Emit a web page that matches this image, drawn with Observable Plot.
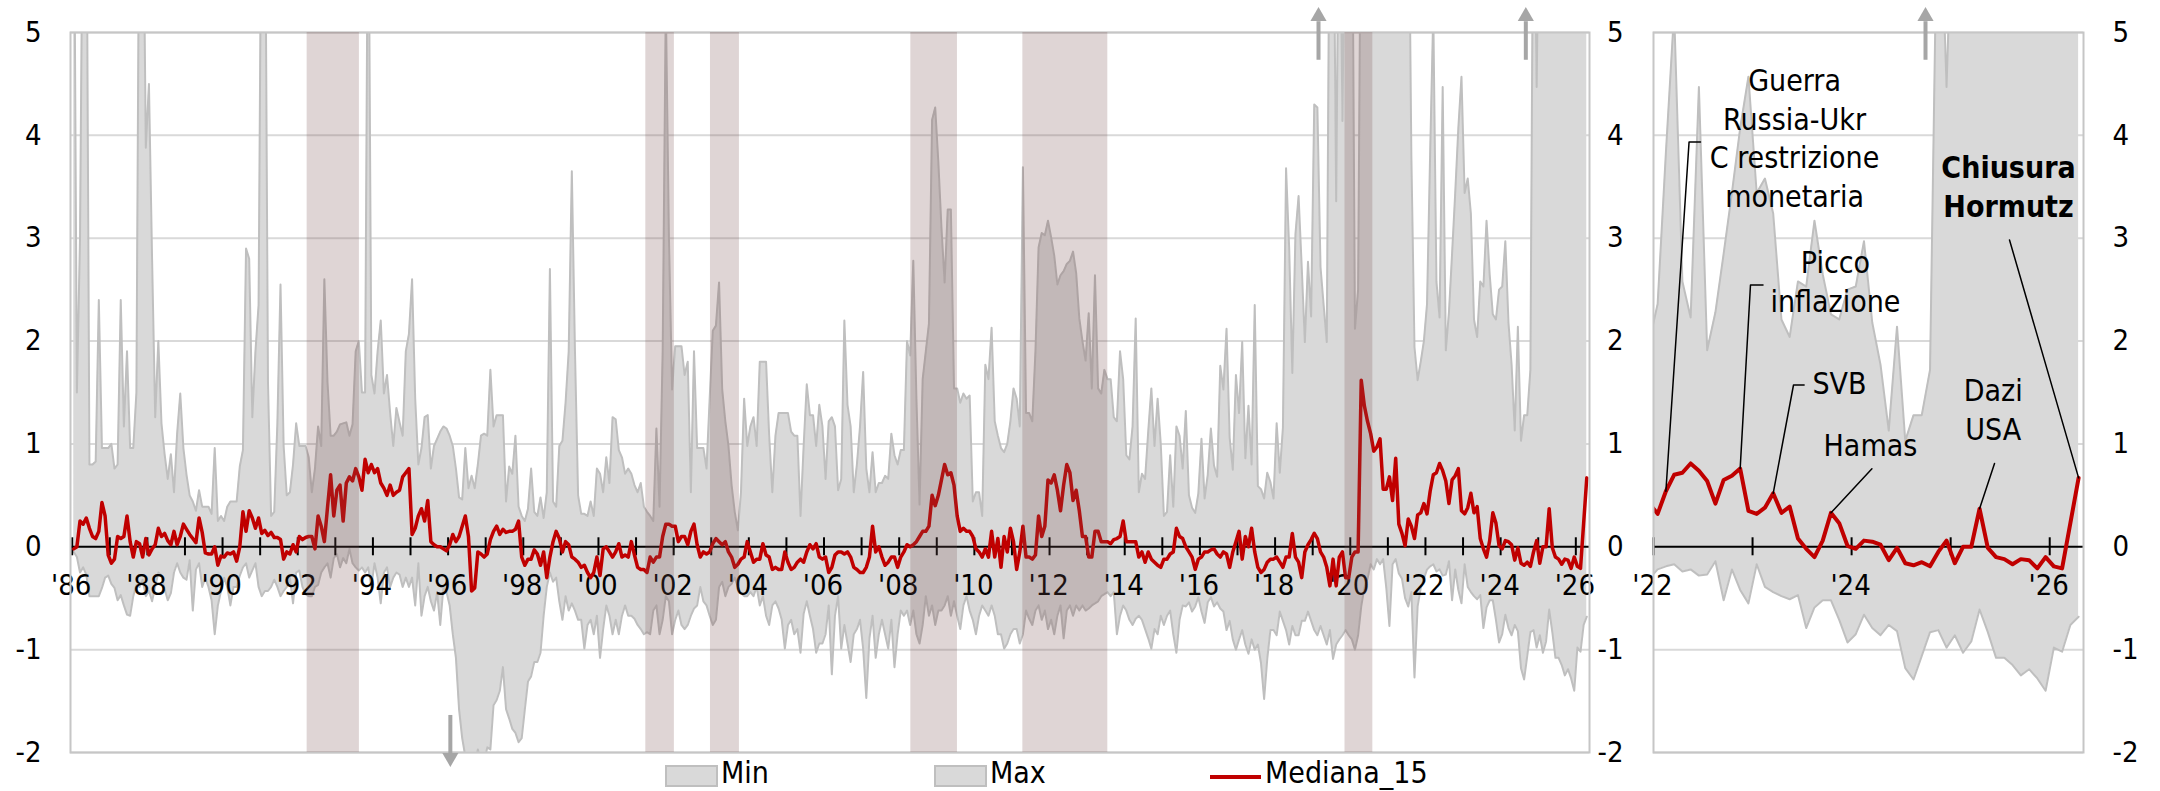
<!DOCTYPE html>
<html><head><meta charset="utf-8">
<script src="https://cdn.jsdelivr.net/npm/d3@7"></script>
<script src="https://cdn.jsdelivr.net/npm/@observablehq/plot@0.6"></script>
<style>
html,body{margin:0;padding:0;background:#fff;}
#wrap{position:relative;width:2160px;height:791px;overflow:hidden;font-family:"DejaVu Sans Condensed","DejaVu Sans",sans-serif;font-stretch:condensed;}
#left{position:absolute;left:0;top:0;}
#right{position:absolute;left:1640px;top:0;}
#legend{position:absolute;left:0;top:760px;}
svg{overflow:visible;}
</style>
</head><body>
<div id="wrap"><div id="left"></div><div id="right"></div><div id="legend"></div></div>
<script>
// Monthly series, Jan 1986 .. Apr 2026
const startYear = 1986;
const median = [
-0.02,0.0,0.25,0.22,0.28,0.18,0.1,0.08,0.15,0.43,
0.3,-0.08,-0.16,-0.12,0.1,0.08,0.1,0.3,0.05,-0.1,
0.05,0.03,-0.1,0.08,-0.08,-0.02,0.02,0.18,0.1,0.13,
0.06,0.02,0.15,0.02,0.1,0.22,0.17,0.12,0.08,0.04,
0.28,0.14,-0.06,-0.07,-0.07,0.0,-0.18,-0.09,-0.1,-0.06,
-0.07,-0.05,-0.14,0.0,0.34,0.15,0.35,0.28,0.18,0.28,
0.13,0.16,0.11,0.14,0.09,0.09,0.07,-0.12,-0.05,-0.07,
0.02,-0.05,0.1,0.07,0.09,0.1,0.1,-0.02,0.3,0.2,
0.05,0.38,0.7,0.3,0.55,0.6,0.25,0.62,0.68,0.64,
0.76,0.68,0.55,0.85,0.72,0.8,0.72,0.76,0.62,0.57,
0.5,0.6,0.5,0.53,0.55,0.68,0.72,0.76,0.12,0.18,
0.3,0.37,0.25,0.45,0.05,0.02,0.0,0.0,-0.02,-0.04,
0.02,0.12,0.05,0.1,0.2,0.3,0.1,-0.43,-0.4,-0.05,
-0.07,-0.1,-0.07,0.07,0.15,0.2,0.12,0.17,0.14,0.15,
0.15,0.17,0.25,-0.1,-0.18,-0.12,-0.12,-0.03,-0.07,-0.18,
-0.05,-0.3,-0.1,0.05,0.15,0.08,-0.05,0.05,0.02,-0.1,
-0.12,-0.15,-0.2,-0.18,-0.25,-0.3,-0.25,-0.1,-0.28,-0.02,
0.0,-0.05,-0.1,-0.05,0.03,-0.1,-0.08,-0.1,0.05,-0.08,
-0.2,-0.22,-0.22,-0.25,-0.1,-0.15,-0.1,-0.1,0.1,0.22,
0.22,0.2,0.2,0.05,0.1,0.1,0.02,0.15,0.22,0.02,
-0.1,-0.05,-0.07,-0.05,0.03,0.08,0.05,0.02,0.05,-0.05,
-0.1,-0.2,-0.17,-0.12,-0.1,0.05,-0.05,-0.15,-0.12,-0.12,
0.03,-0.08,-0.1,-0.22,-0.2,-0.22,-0.22,-0.05,-0.15,-0.22,
-0.2,-0.15,-0.12,-0.15,-0.05,0.02,-0.02,0.03,-0.1,-0.12,
-0.1,-0.25,-0.2,-0.08,-0.05,-0.05,-0.07,-0.05,-0.1,-0.2,
-0.22,-0.25,-0.25,-0.2,-0.1,0.2,-0.05,0.0,-0.1,-0.18,
-0.15,-0.1,-0.1,-0.2,-0.1,-0.05,0.02,0.0,0.02,0.05,
0.1,0.15,0.15,0.2,0.5,0.4,0.5,0.65,0.8,0.7,
0.72,0.6,0.3,0.15,0.18,0.15,0.15,0.1,-0.02,-0.05,
-0.1,-0.02,-0.1,0.15,-0.1,0.08,-0.2,0.1,-0.05,0.18,
0.05,-0.22,-0.05,0.2,-0.1,-0.1,-0.12,-0.08,0.3,0.1,
0.2,0.65,0.62,0.7,0.55,0.35,0.6,0.8,0.72,0.45,
0.55,0.35,0.1,0.1,-0.1,-0.1,0.15,0.15,0.05,0.05,
0.05,0.03,0.07,0.08,0.1,0.25,0.05,0.05,0.05,0.05,
-0.1,-0.05,-0.15,-0.05,-0.12,-0.15,-0.18,-0.2,-0.12,-0.12,
-0.07,-0.05,0.18,0.1,0.08,0.0,-0.05,-0.1,-0.22,-0.12,
-0.1,-0.05,-0.05,-0.03,-0.02,-0.07,-0.1,-0.05,-0.07,-0.2,
-0.05,0.05,0.15,-0.12,0.1,0.0,0.18,-0.05,-0.2,-0.25,
-0.22,-0.15,-0.12,-0.12,-0.1,-0.15,-0.2,-0.1,-0.1,0.13,
-0.1,-0.15,-0.3,-0.05,0.02,0.07,0.13,0.08,-0.05,-0.1,
-0.2,-0.38,-0.12,-0.38,-0.1,-0.05,-0.3,-0.3,-0.1,-0.05,
-0.05,1.62,1.37,1.22,1.10,0.93,0.97,1.05,0.56,0.56,
0.68,0.45,0.86,0.22,0.13,0.01,0.27,0.2,0.08,0.31,
0.33,0.42,0.32,0.54,0.70,0.72,0.81,0.74,0.64,0.42,
0.65,0.69,0.76,0.35,0.32,0.38,0.52,0.33,0.39,0.08,
-0.02,-0.10,0.06,0.33,0.23,0.01,-0.02,0.06,0.05,0.02,
-0.13,-0.01,-0.16,-0.18,-0.15,-0.19,-0.05,0.06,-0.16,0.0,
0.0,0.37,-0.01,-0.10,-0.12,-0.17,-0.12,-0.13,-0.21,-0.10,
-0.19,-0.21,0.23,0.67];

const maxV = [
7,1.5,3.0,7,7,0.8,0.8,0.83,2.4,0.96,
0.96,0.96,1.0,0.76,0.8,2.4,1.17,1.9,0.96,0.96,
1.5,7,7,3.88,4.5,2.8,1.26,2.0,1.2,0.9,
0.66,0.9,0.53,1.1,1.49,0.96,0.7,0.5,0.44,0.35,
0.55,0.39,0.39,0.39,0.32,0.96,0.25,0.3,0.25,0.39,
0.44,0.44,0.44,0.78,0.94,2.9,2.8,1.26,1.9,2.35,
7,7,1.6,0.3,0.34,1.2,2.55,0.98,0.5,0.53,
0.8,1.2,0.98,0.98,0.98,0.87,0.53,0.76,1.17,0.98,
2.6,1.6,1.08,1.08,1.12,1.19,1.2,1.21,1.08,1.19,
1.9,2.0,1.5,1.5,7,1.67,1.49,1.9,2.2,1.49,
1.67,1.3,0.98,1.35,1.21,1.08,1.9,2.07,2.6,1.44,
0.8,0.96,1.26,1.28,0.76,0.98,1.05,1.12,1.17,1.15,
1.08,0.98,0.76,0.48,0.46,0.96,0.57,0.69,0.57,0.8,
1.08,1.1,1.08,1.72,1.17,1.28,1.28,1.28,0.44,0.78,
0.71,1.08,0.39,0.3,0.25,0.37,0.76,0.34,0.3,0.48,
0.28,0.53,2.7,0.44,0.39,0.98,1.03,1.4,1.9,3.65,
1.9,0.5,0.32,0.32,0.3,0.44,0.3,0.76,0.71,0.53,
0.87,0.62,1.26,1.24,0.94,0.87,0.71,0.76,0.71,0.6,
0.53,0.62,0.39,0.34,0.3,0.25,1.15,0.39,1.9,5.3,
3.0,1.53,1.95,1.95,1.95,1.67,1.8,0.53,1.9,0.96,
0.96,0.96,0.76,1.44,2.1,2.15,2.57,1.53,1.22,0.98,
0.6,0.34,0.16,0.53,1.44,0.98,1.17,1.26,0.98,1.8,
1.8,1.8,1.08,0.53,1.08,1.3,1.3,1.3,1.3,1.12,
1.08,1.08,0.3,0.98,1.58,1.28,1.28,0.98,1.38,1.17,
0.66,1.22,1.26,1.17,0.55,0.66,2.2,1.38,1.17,0.53,
0.8,1.17,1.7,0.76,0.53,0.92,0.53,0.62,0.62,0.69,
0.66,1.1,0.89,0.8,0.94,0.94,2.0,1.86,2.78,1.44,
0.41,1.63,1.9,2.17,4.15,4.27,3.74,3.1,2.57,3.28,
3.28,1.54,1.54,1.4,1.49,1.44,1.47,0.44,0.53,0.53,
0.3,1.77,1.63,2.13,1.22,1.08,0.96,0.92,1.0,1.22,
1.54,1.44,1.17,3.69,1.3,1.3,1.22,1.9,2.91,3.05,
3.03,3.17,3.01,2.83,2.55,2.64,2.68,2.75,2.78,2.87,
2.66,2.22,2.0,1.81,2.27,1.54,2.64,1.54,1.49,1.72,
1.63,1.63,1.26,1.22,1.9,1.63,0.89,0.85,1.17,2.22,
0.53,0.71,0.66,1.12,1.54,0.98,1.44,1.0,0.3,0.34,
0.89,0.39,1.17,1.08,0.76,1.32,0.5,0.38,0.33,0.52,
1.05,0.47,0.7,1.15,0.79,0.68,1.76,1.53,2.12,1.06,
0.75,1.67,1.3,1.99,0.86,1.37,0.8,2.35,0.59,0.56,
0.47,0.72,0.63,0.47,1.2,0.72,1.16,3.68,2.9,1.69,
3.04,3.41,2.72,1.99,2.77,2.24,4.3,4.27,2.72,2.35,
1.99,7,7,3.36,7,4.14,7,7,7,2.12,
2.5,7,7,7,7,7,7,7,7,7,
7,7,7,7,7,7,7,3.8,1.94,1.62,
1.8,2.0,2.36,3.83,5.2,2.58,2.23,4.47,1.91,2.28,
2.85,3.44,4.07,4.57,3.44,3.58,3.24,2.21,2.04,2.58,
2.53,3.17,2.65,2.26,2.21,2.5,2.53,2.97,2.18,1.77,
1.13,2.14,1.03,1.28,1.28,1.72,7,4.47,7,7,
7,7,7,7,7,7,7,7,7,7,
7,7,7,7];

const minV = [
-0.05,-0.1,-0.25,-0.2,-0.27,-0.48,-0.48,-0.48,-0.48,-0.4,
-0.3,-0.28,-0.36,-0.4,-0.52,-0.47,-0.57,-0.66,-0.67,-0.48,
-0.37,-0.39,-0.32,-0.48,-0.43,-0.53,-0.39,-0.25,-0.28,-0.41,
-0.52,-0.45,-0.25,-0.16,-0.25,-0.3,-0.32,-0.13,-0.62,-0.22,
-0.16,-0.39,-0.3,-0.39,-0.52,-0.85,-0.57,-0.43,-0.3,-0.39,
-0.57,-0.39,-0.39,-0.28,-0.2,-0.16,-0.3,-0.23,-0.16,-0.39,
-0.48,-0.43,-0.43,-0.39,-0.32,-0.39,-0.48,-0.43,-0.39,-0.3,
-0.55,-0.25,-0.23,-0.39,-0.46,-0.48,-0.48,-0.39,-0.37,-0.25,
-0.2,-0.16,-0.3,-0.11,-0.07,-0.2,-0.11,-0.16,-0.02,-0.16,
-0.2,-0.23,-0.2,-0.25,-0.2,-0.39,-0.16,-0.3,-0.55,-0.25,
-0.2,-0.39,-0.3,-0.25,-0.27,-0.39,-0.3,-0.39,-0.3,-0.57,
-0.16,-0.67,-0.48,-0.39,-0.53,-0.62,-0.44,-0.76,-0.39,-0.44,
-0.57,-0.85,-1.08,-1.58,-1.86,-2.04,-2.2,-2.2,-2.1,-1.97,
-2.1,-2.1,-1.95,-1.97,-1.54,-1.49,-1.4,-1.17,-1.58,-1.67,
-1.77,-1.81,-1.9,-1.86,-1.58,-1.31,-1.26,-1.12,-1.12,-1.03,
-0.67,-0.39,-0.25,-0.34,-0.3,-0.53,-0.71,-0.48,-0.62,-0.55,
-0.62,-0.71,-0.71,-0.99,-0.76,-0.71,-0.85,-0.67,-1.08,-0.8,
-0.57,-0.67,-0.85,-0.71,-0.85,-0.67,-0.57,-0.67,-0.67,-0.7,
-0.76,-0.8,-0.85,-0.83,-0.85,-0.62,-0.57,-0.85,-0.71,-0.48,
-0.53,-0.85,-0.71,-0.62,-0.76,-0.8,-0.76,-0.67,-0.6,-0.57,
-0.39,-0.53,-0.57,-0.67,-0.76,-0.71,-0.39,-0.34,-0.48,-0.39,
-0.36,-0.3,-0.39,-0.45,-0.48,-0.48,-0.44,-0.48,-0.39,-0.57,
-0.48,-0.67,-0.76,-0.57,-0.53,-0.6,-0.71,-0.99,-0.76,-0.71,
-0.85,-0.8,-1.03,-0.65,-0.53,-0.67,-0.8,-1.03,-0.94,-0.94,
-0.85,-0.57,-1.24,-0.67,-0.48,-0.99,-0.76,-0.94,-1.12,-0.85,
-0.8,-0.71,-0.99,-1.47,-0.89,-0.67,-1.08,-0.85,-0.71,-0.85,
-0.99,-0.71,-1.17,-0.85,-0.62,-0.67,-0.62,-0.76,-0.62,-0.85,
-0.94,-0.76,-0.48,-0.67,-0.57,-0.76,-0.62,-0.62,-0.57,-0.48,
-0.67,-0.53,-0.67,-0.8,-0.57,-0.48,-0.62,-0.71,-0.85,-0.67,
-0.57,-0.62,-0.67,-0.57,-0.67,-0.85,-0.85,-0.99,-0.94,-0.85,
-0.8,-0.8,-0.94,-0.85,-0.62,-0.7,-0.76,-0.62,-0.57,-0.71,
-0.62,-0.8,-0.71,-0.85,-0.67,-0.57,-0.89,-0.62,-0.57,-0.67,
-0.57,-0.62,-0.57,-0.62,-0.6,-0.57,-0.55,-0.53,-0.48,-0.46,
-0.44,-0.48,-0.44,-0.85,-0.67,-0.57,-0.62,-0.71,-0.76,-0.7,
-0.67,-0.71,-0.8,-0.89,-0.99,-0.8,-0.85,-0.67,-0.76,-0.67,
-0.62,-0.85,-1.03,-0.71,-0.57,-0.58,-0.54,-0.63,-0.58,-0.49,
-0.63,-0.74,-0.54,-0.49,-0.58,-0.54,-0.6,-0.63,-0.81,-0.72,
-0.9,-1.0,-0.9,-0.81,-0.95,-1.04,-0.9,-1.0,-0.95,-1.13,
-1.48,-1.09,-0.81,-0.81,-0.86,-0.63,-0.72,-0.81,-0.95,-0.77,
-0.86,-0.86,-0.72,-0.72,-0.63,-0.72,-0.81,-0.86,-0.77,-0.86,
-0.95,-0.81,-1.09,-0.95,-0.9,-0.86,-0.81,-0.86,-0.9,-1.0,
-0.86,-0.58,-0.4,-0.31,-0.17,-0.22,-0.12,-0.17,-0.12,-0.4,
-0.77,-0.17,-0.12,-0.26,-0.31,-0.5,-0.58,-0.44,-1.27,-0.58,
-0.4,-0.31,-0.22,-0.19,-0.17,-0.24,-0.22,-0.28,-0.27,-0.14,
-0.52,-0.22,-0.42,-0.55,-0.17,-0.39,-0.44,-0.48,-0.51,-0.47,
-0.79,-0.59,-0.52,-0.52,-0.71,-0.93,-0.85,-0.66,-0.79,-0.86,
-0.76,-0.82,-1.18,-1.29,-1.06,-0.83,-0.81,-0.98,-0.86,-1.03,
-0.92,-0.61,-0.83,-1.08,-1.08,-1.15,-1.25,-1.19,-1.28,-1.4,
-0.98,-1.02,-0.76,-0.68];

// Recession periods (fractional years)
const recessionStart = [1992.25, 2001.26, 2002.98, 2008.31, 2011.29, 2019.86];
const recessionEnd   = [1993.64, 2002.02, 2003.75, 2009.55, 2013.55, 2020.60];

// Out-of-range markers (fractional years)
const upArrowsLeft = [2019.155, 2024.67];
const downArrowsLeft = [1996.06];
const upArrowsRight = [2024.746];

const yTicks = [-2,-1,0,1,2,3,4,5];
const tickYearsLeft = d3.range(1986, 2027);
const labelYearsLeft = d3.range(1986, 2027, 2);
const tickYearsRight = [2022, 2023, 2024, 2025, 2026];
const labelYearsRight = [2022, 2024, 2026];

// Annotations (right panel): label anchor at the last line's baseline (year, value), leader elbow points, target month
const notes = [
  {id: "g", text: "Guerra\nRussia-Ukr\nC restrizione\nmonetaria", x: 2023.424, y: 3.3035, bold: false, elbow: [[2022.4745, 3.935], [2022.359, 3.935]], target: "2022-02"},
  {id: "p", text: "Picco\ninflazione", x: 2023.837, y: 2.2827, bold: false, elbow: [[2023.1055, 2.545], [2022.979, 2.545]], target: "2022-11"},
  {id: "s", text: "SVB", x: 2023.878, y: 1.4855, bold: false, elbow: [[2023.5205, 1.573], [2023.4134, 1.573]], target: "2023-03"},
  {id: "h", text: "Hamas", x: 2024.19, y: 0.8828, bold: false, elbow: [[2024.205, 0.759]], target: "2023-10"},
  {id: "d", text: "Dazi\nUSA", x: 2025.43, y: 1.0383, bold: false, elbow: [[2025.4427, 0.809]], target: "2025-04"},
  {id: "c", text: "Chiusura\nHormutz", x: 2025.584, y: 3.2063, bold: true, elbow: [[2025.594, 2.983]], target: "2026-04"}
];

// ---- build table ----
const data = median.map((v, i) => ({
  date: startYear + (i + 0.5) / 12,
  key: `${startYear + Math.floor(i / 12)}-${String(i % 12 + 1).padStart(2, "0")}`,
  median: v, min: minV[i], max: maxV[i]
}));
const byKey = new Map(data.map(d => [d.key, d]));
const recessions = recessionStart.map((s, i) => ({start: s, end: recessionEnd[i]}));

const FONT = '"DejaVu Sans Condensed","DejaVu Sans",sans-serif';
const GRID = "#d9d9d9", BAND = "#d9d9d9", BANDLINE = "#bfbfbf", FRAME = "#c6c6c6", RED = "#c00000", ARROW = "#a6a6a6";
const AXFS = 29;
const yr = y => "'" + String(y).slice(2);

function arrowMarks(upDates, downDates) {
  const yTop = 5, yBot = -2;
  return [
    Plot.link(upDates, {x1: d => d, x2: d => d, y1: yTop - 0.265, y2: yTop + 0.11, stroke: ARROW, strokeWidth: 4}),
    Plot.dot(upDates, {x: d => d, y: yTop + 0.157, symbol: "triangle", r: 6, fill: ARROW, stroke: "none"}),
    Plot.link(downDates, {x1: d => d, x2: d => d, y1: yBot + 0.365, y2: yBot - 0.005, stroke: ARROW, strokeWidth: 4}),
    Plot.dot(downDates, {x: d => d, y: yBot - 0.05, symbol: "triangle", rotate: 180, r: 6, fill: ARROW, stroke: "none"})
  ];
}

function baseMarks(rows, tickYears, labelYears, lineWidth) {
  return [
    Plot.ruleY(yTicks.filter(d => d !== 0), {stroke: GRID, strokeWidth: 2}),
    Plot.area(rows, {x1: "date", y1: "min", y2: "max", fill: BAND, clip: true}),
    Plot.line(rows, {x: "date", y: "max", stroke: BANDLINE, strokeWidth: 2, clip: true}),
    Plot.line(rows, {x: "date", y: "min", stroke: BANDLINE, strokeWidth: 2, clip: true}),
    Plot.ruleY([0], {stroke: "#000", strokeWidth: 2}),
    Plot.ruleX(tickYears, {x: d => d, y1: 0, y2: 0, insetTop: -9, insetBottom: -9, stroke: "#000", strokeWidth: 2}),
    Plot.text(labelYears, {x: d => d, y: 0, text: yr, dy: 48, dx: -1, lineAnchor: "bottom", textAnchor: "middle", fontSize: AXFS, fill: "#000"}),
    Plot.line(rows, {x: "date", y: "median", stroke: RED, strokeWidth: lineWidth, clip: true}),
    Plot.frame({stroke: FRAME, strokeWidth: 2})
  ];
}

// ---- left panel ----
const leftPlot = Plot.plot({
  width: 1640, height: 760,
  marginLeft: 70, marginRight: 51, marginTop: 32, marginBottom: 8,
  x: {domain: [1985.955, 2026.364], axis: null},
  y: {domain: [-2, 5], axis: null},
  style: {fontFamily: FONT, fontSize: AXFS + "px", background: "transparent", overflow: "visible", color: "#000"},
  marks: [
    ...baseMarks(data, tickYearsLeft, labelYearsLeft, 3.5),
    Plot.rect(recessions, {x1: "start", x2: "end", fill: "rgb(120,78,78)", fillOpacity: 0.24}),
    Plot.axisY(yTicks, {anchor: "left", tickSize: 0, tickPadding: 29, fontSize: AXFS, tickFormat: d => String(d), label: null}),
    Plot.text(yTicks, {y: d => d, frameAnchor: "right", dx: 34, text: d => String(d), textAnchor: "end", fontSize: AXFS, fill: "#000"}),
    ...arrowMarks(upArrowsLeft, downArrowsLeft)
  ]
});
document.getElementById("left").append(leftPlot);

// ---- right panel ----
const rightRows = data.filter(d => d.date > 2021.85);
const leaderPts = notes.flatMap(n => {
  const t = byKey.get(n.target);
  return [...n.elbow.map(([x, y]) => ({id: n.id, x, y})), {id: n.id, x: t.date, y: t.median}];
});
const NOTEFS = 30, NOTELH = 1.287;
const rightPlot = Plot.plot({
  width: 520, height: 760,
  marginLeft: 13, marginRight: 77, marginTop: 32, marginBottom: 8,
  x: {domain: [2022, 2026.341], axis: null},
  y: {domain: [-2, 5], axis: null},
  style: {fontFamily: FONT, fontSize: AXFS + "px", background: "transparent", overflow: "visible", color: "#000"},
  marks: [
    ...baseMarks(rightRows, tickYearsRight, labelYearsRight, 4),
    Plot.axisY(yTicks, {anchor: "right", tickSize: 0, tickPadding: 29, fontSize: AXFS, tickFormat: d => String(d), label: null}),
    Plot.line(leaderPts, {x: "x", y: "y", z: "id", stroke: "#000", strokeWidth: 1.5}),
    Plot.text(notes.filter(n => !n.bold), {x: "x", y: "y", text: "text", lineAnchor: "bottom", textAnchor: "middle", fontSize: NOTEFS, lineHeight: NOTELH, fill: "#000"}),
    Plot.text(notes.filter(n => n.bold), {x: "x", y: "y", text: "text", lineAnchor: "bottom", textAnchor: "middle", fontSize: NOTEFS, lineHeight: NOTELH, fontWeight: "bold", fill: "#000"}),
    ...arrowMarks(upArrowsRight, [])
  ]
});
document.getElementById("right").append(rightPlot);

// ---- legend ----
const legendItems = [
  {label: "Min", kind: "area", x: 666},
  {label: "Max", kind: "area", x: 935},
  {label: "Mediana_15", kind: "line", x: 1210}
];
const lg = d3.select("#legend").append("svg").attr("width", 2160).attr("height", 31)
  .style("font-family", FONT).style("font-size", "30px");
for (const it of legendItems) {
  if (it.kind === "area") {
    lg.append("rect").attr("x", it.x).attr("y", 6).attr("width", 51).attr("height", 20)
      .attr("fill", BAND).attr("stroke", BANDLINE).attr("stroke-width", 2);
  } else {
    lg.append("line").attr("x1", it.x).attr("x2", it.x + 51).attr("y1", 17).attr("y2", 17)
      .attr("stroke", RED).attr("stroke-width", 4);
  }
  lg.append("text").attr("x", it.x + 55).attr("y", 23).attr("fill", "#000").text(it.label);
}
</script>
</body></html>
